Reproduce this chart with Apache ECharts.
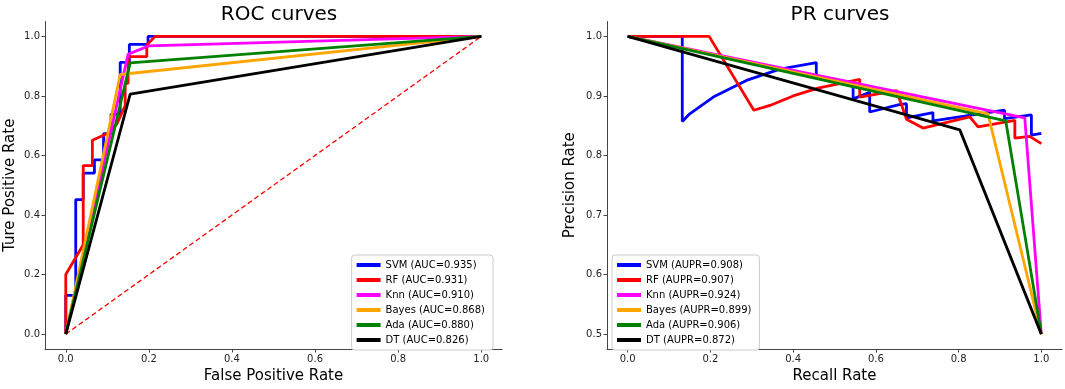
<!DOCTYPE html>
<html>
<head>
<meta charset="utf-8">
<script src="https://cdn.jsdelivr.net/npm/echarts@6/dist/echarts.min.js"></script>
<style>
  html, body { margin: 0; padding: 0; background: #fff; }
  #chart { width: 1065px; height: 389px; }
</style>
</head>
<body>
<div id="chart"></div>
<script>
const models = ['SVM', 'RF', 'Knn', 'Bayes', 'Ada', 'DT'];
const colors = ['#0000ff', '#ff0000', '#ff00ff', '#ffa500', '#008000', '#000000'];
const aucScores = ['0.935', '0.931', '0.910', '0.868', '0.880', '0.826'];
const auprScores = ['0.908', '0.907', '0.924', '0.899', '0.906', '0.872'];

// ROC curves: [false positive rate, true positive rate]
const rocSvm = [[0, 0], [0, 0.13], [0.024, 0.13], [0.024, 0.452], [0.042, 0.452], [0.042, 0.541],
  [0.069, 0.541], [0.069, 0.585], [0.091, 0.585], [0.091, 0.673], [0.109, 0.673], [0.109, 0.739],
  [0.131, 0.739], [0.131, 0.913], [0.153, 0.913], [0.153, 0.973], [0.198, 0.973], [0.198, 1], [1, 1]];
const rocRf = [[0, 0], [0, 0.2], [0.042, 0.3], [0.042, 0.566], [0.064, 0.566], [0.064, 0.651],
  [0.099, 0.673], [0.123, 0.706], [0.143, 0.767], [0.143, 0.842], [0.15, 0.842], [0.15, 0.932],
  [0.195, 0.932], [0.195, 0.971], [0.215, 1], [1, 1]];
const rocKnn = [[0, 0], [0.15, 0.94], [0.2, 0.968], [1, 1]];
const rocBayes = [[0, 0], [0.131, 0.872], [1, 1]];
const rocAda = [[0, 0], [0.155, 0.911], [1, 1]];
const rocDt = [[0, 0], [0.155, 0.806], [1, 1]];
const rocChance = [[0, 0], [1, 1]];

// PR curves: [recall, precision]
const prSvm = [[0, 1], [0.132, 1], [0.132, 0.857], [0.15, 0.87], [0.207, 0.898], [0.287, 0.926],
  [0.368, 0.945], [0.456, 0.956], [0.456, 0.93], [0.545, 0.923], [0.545, 0.895], [0.585, 0.906],
  [0.585, 0.873], [0.654, 0.885], [0.674, 0.887], [0.674, 0.863], [0.738, 0.872], [0.738, 0.858],
  [0.911, 0.876], [0.911, 0.862], [0.976, 0.868], [0.976, 0.834], [1, 0.837]];
const prRf = [[0, 1], [0.197, 1], [0.305, 0.876], [0.344, 0.884], [0.4, 0.9], [0.46, 0.913],
  [0.561, 0.928], [0.561, 0.898], [0.65, 0.909], [0.674, 0.861], [0.714, 0.846], [0.827, 0.865],
  [0.847, 0.848], [0.936, 0.859], [0.936, 0.829], [0.972, 0.832], [1, 0.82]];
const prKnn = [[0, 1], [0.96, 0.863], [1, 0.5]];
const prBayes = [[0, 1], [0.871, 0.87], [1, 0.5]];
const prAda = [[0, 1], [0.914, 0.858], [1, 0.5]];
const prDt = [[0, 1], [0.803, 0.843], [1, 0.5]];

// tick labels
const xTicks = [0, 0.2, 0.4, 0.6, 0.8, 1.0];
const rocYTicks = [0, 0.2, 0.4, 0.6, 0.8, 1.0];
const prYTicks = [0.5, 0.6, 0.7, 0.8, 0.9, 1.0];

const rocData = [rocSvm, rocRf, rocKnn, rocBayes, rocAda, rocDt];
const prData = [prSvm, prRf, prKnn, prBayes, prAda, prDt];

const font = 'DejaVu Sans';
const fmt = v => v.toFixed(1);

function axis(gridIndex, min, max, ticks, name, nameGap) {
  return {
    type: 'value',
    gridIndex: gridIndex,
    min: min,
    max: max,
    name: name,
    nameLocation: 'middle',
    nameGap: nameGap,
    nameTextStyle: { fontFamily: font, fontSize: 15, color: '#000' },
    axisLine: { show: true, onZero: false, lineStyle: { color: '#444', width: 1 } },
    axisTick: { show: true, length: 3.5, customValues: ticks, lineStyle: { color: '#444' } },
    axisLabel: { customValues: ticks, formatter: fmt, fontFamily: font, fontSize: 10, color: '#222', margin: 5 },
    splitLine: { show: false }
  };
}

const series = [];
series.push({
  type: 'line', xAxisIndex: 0, yAxisIndex: 0, data: rocChance, showSymbol: false,
  silent: true, lineStyle: { color: '#ff0000', width: 1.3, type: [5, 3] }
});
models.forEach((m, i) => {
  series.push({
    name: m + ' (AUC=' + aucScores[i] + ')', type: 'line', xAxisIndex: 0, yAxisIndex: 0,
    data: rocData[i], showSymbol: false, color: colors[i], lineStyle: { width: 2.8 }
  });
});
models.forEach((m, i) => {
  series.push({
    name: m + ' (AUPR=' + auprScores[i] + ')', type: 'line', xAxisIndex: 1, yAxisIndex: 1,
    data: prData[i], showSymbol: false, color: colors[i], lineStyle: { width: 2.8 }
  });
});

function legend(names, pos) {
  return Object.assign({
    orient: 'vertical',
    data: names.map(n => ({ name: n, icon: 'rect' })),
    itemWidth: 24, itemHeight: 4, itemGap: 3,
    padding: [4, 8, 4, 5],
    borderColor: '#ccc', borderWidth: 1, borderRadius: 3,
    backgroundColor: '#fff',
    selectedMode: false,
    textStyle: { fontFamily: font, fontSize: 10, color: '#000', lineHeight: 12 }
  }, pos);
}

const chart = echarts.init(document.getElementById('chart'));
chart.setOption({
  animation: false,
  backgroundColor: '#fff',
  title: [
    { text: 'ROC curves', left: 274, top: 0, textAlign: 'center',
      textStyle: { fontFamily: font, fontSize: 20, fontWeight: 'normal', color: '#000' } },
    { text: 'PR curves', left: 835, top: 0, textAlign: 'center',
      textStyle: { fontFamily: font, fontSize: 20, fontWeight: 'normal', color: '#000' } }
  ],
  grid: [
    { left: 45, right: 563, top: 21.5, bottom: 35.5 },
    { left: 607, right: 3, top: 21.5, bottom: 35.5 }
  ],
  xAxis: [
    axis(0, -0.05, 1.05, xTicks, 'False Positive Rate', 20),
    axis(1, -0.05, 1.05, xTicks, 'Recall Rate', 20)
  ],
  yAxis: [
    axis(0, -0.05, 1.05, rocYTicks, 'Ture Positive Rate', 27),
    axis(1, 0.475, 1.025, prYTicks, 'Precision Rate', 29)
  ],
  legend: [
    legend(models.map((m, i) => m + ' (AUC=' + aucScores[i] + ')'), { right: 572, top: 255 }),
    legend(models.map((m, i) => m + ' (AUPR=' + auprScores[i] + ')'), { left: 612, top: 255 })
  ],
  series: series
});
</script>
</body>
</html>
